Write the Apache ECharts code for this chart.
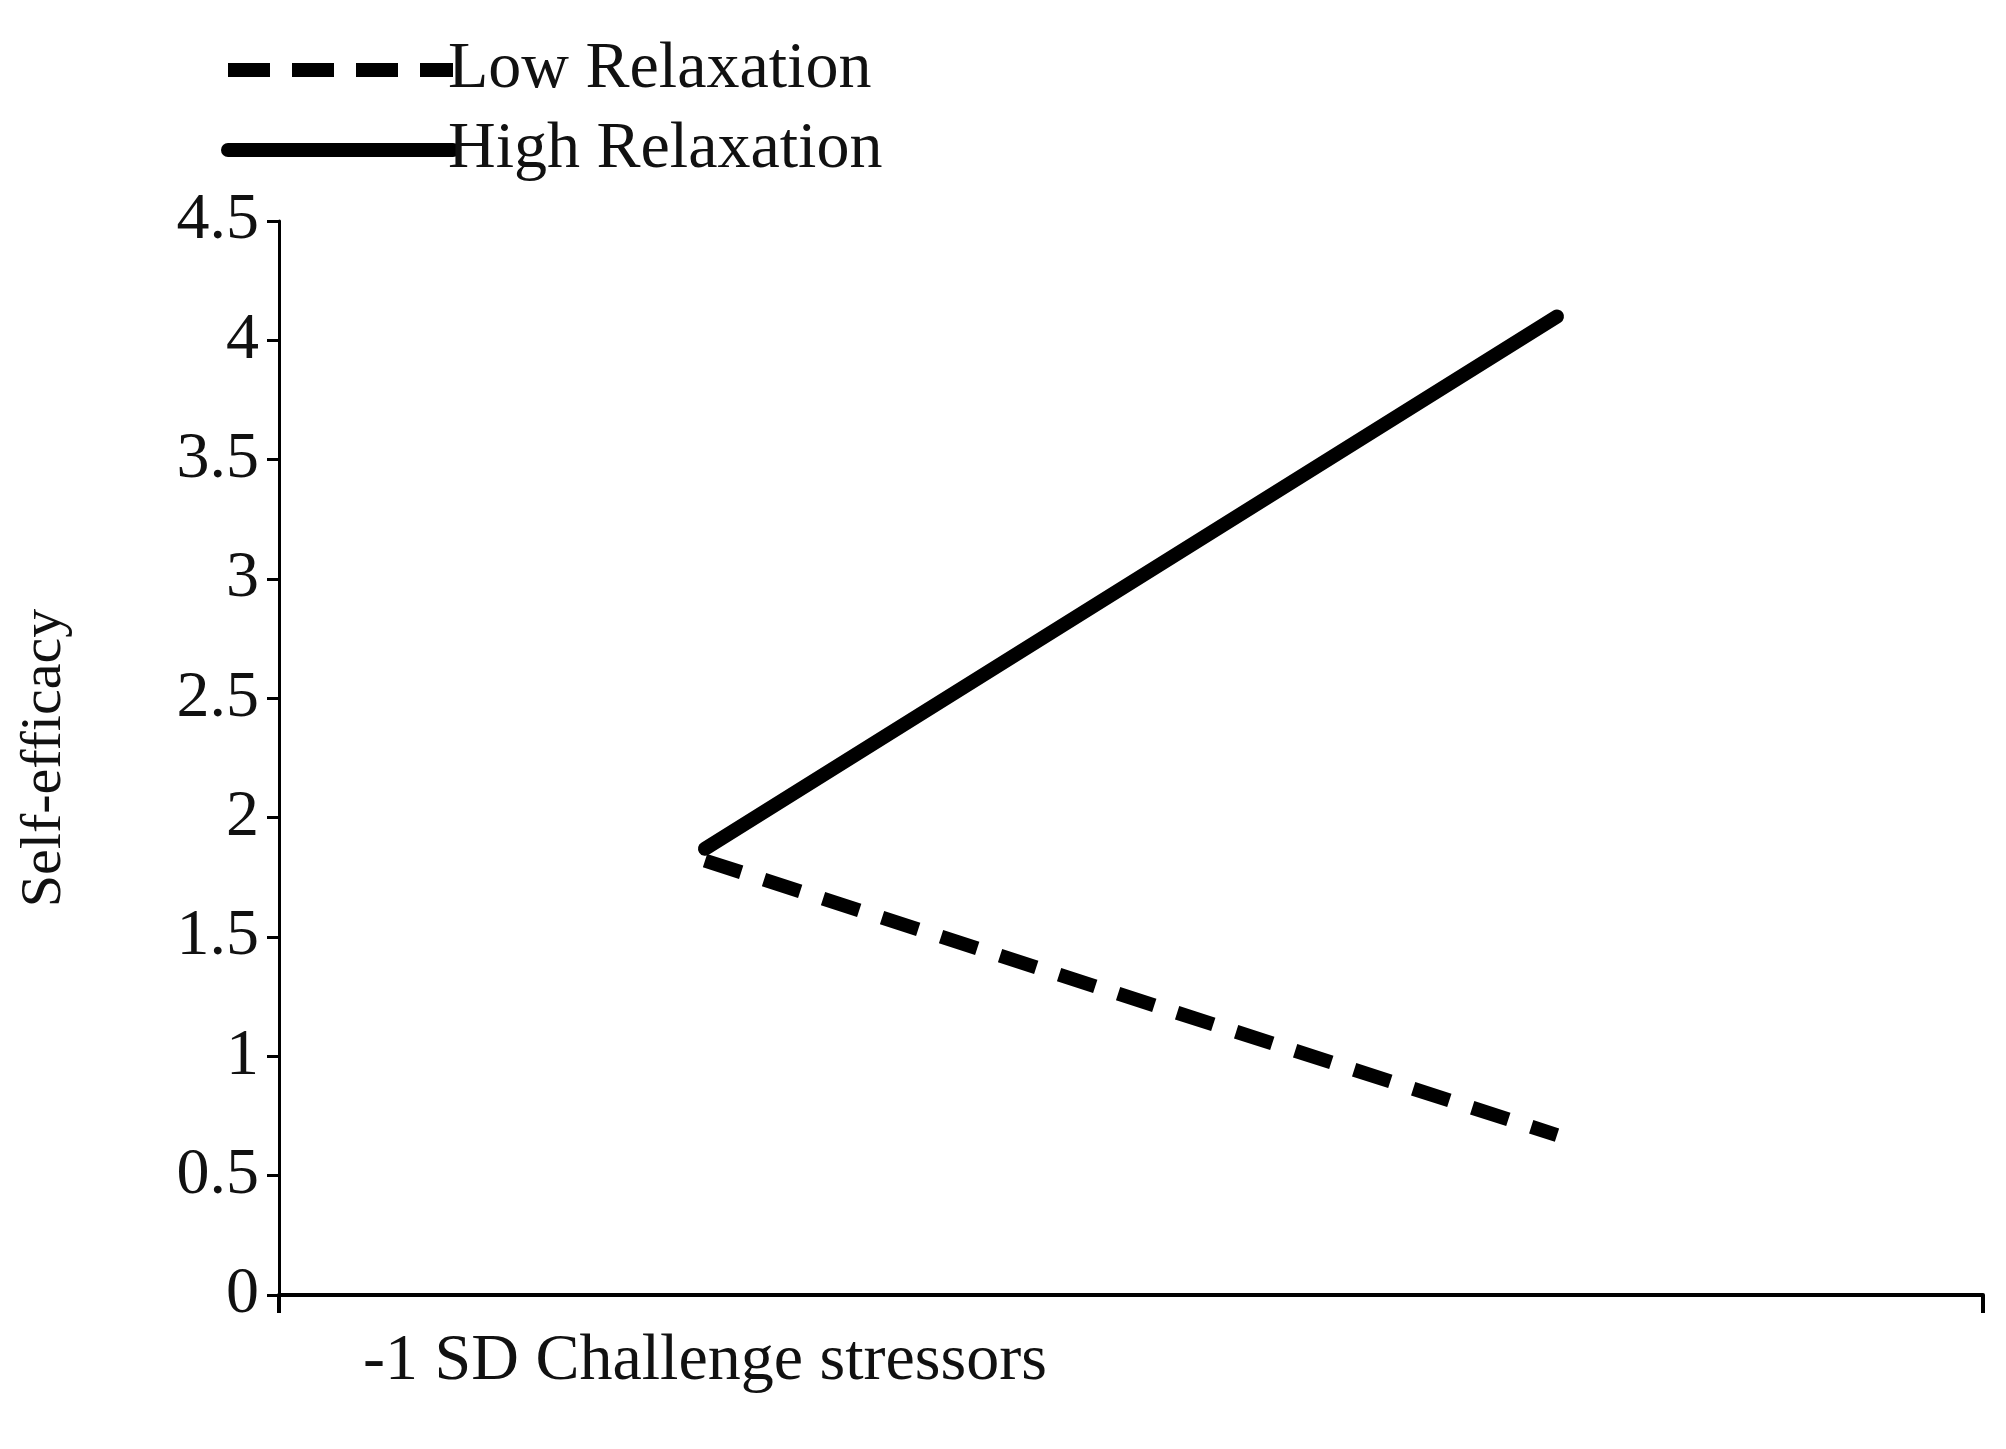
<!DOCTYPE html>
<html>
<head>
<meta charset="utf-8">
<script src="https://cdn.jsdelivr.net/npm/echarts@6/dist/echarts.min.js"></script>
<style>html,body{margin:0;padding:0;background:#fff}#c{width:2006px;height:1449px}</style>
</head>
<body>
<div id="c"></div>
<script>
// data
var categories = ['-1 SD Challenge stressors', '+1 SD Challenge stressors'];
var lowRelax = [1.82, 0.67];
var highRelax = [1.87, 4.1];
var yTicks = [0, 0.5, 1, 1.5, 2, 2.5, 3, 3.5, 4, 4.5];

var font = 'Liberation Serif';
var chart = echarts.init(document.getElementById('c'));
chart.setOption({
	animation: false,
	backgroundColor: '#fff',
	textStyle: {fontFamily: font, color: '#111'},
	grid: {left: 279, right: 23, top: 221, bottom: 154},
	legend: {
		orient: 'vertical', left: 216, top: 32, itemGap: 14,
		itemWidth: 225, itemHeight: 60,
		textStyle: {fontFamily: font, fontSize: 66, color: '#111', padding: [0, 0, 0, -10]},
		itemStyle: {opacity: 0},
		data: [
			{name: 'Low Relaxation', lineStyle: {color: '#000', width: 14, type: [42, 22]}},
			{name: 'High Relaxation', lineStyle: {color: '#000', width: 14, cap: 'round'}}
		]
	},
	xAxis: {
		type: 'category', data: categories, boundaryGap: true,
		axisLine: {lineStyle: {color: '#000', width: 4}},
		axisTick: {show: true, inside: false, length: 18, lineStyle: {color: '#000', width: 4}},
		axisLabel: {fontFamily: font, fontSize: 66, color: '#111', margin: 34}
	},
	yAxis: {
		type: 'value', min: 0, max: 4.5, interval: 0.5,
		name: 'Self-efficacy', nameLocation: 'middle', nameGap: 205, nameRotate: 90,
		nameTextStyle: {fontFamily: font, fontSize: 58, color: '#111'},
		splitLine: {show: false},
		axisLine: {show: true, lineStyle: {color: '#000', width: 3}},
		axisTick: {show: true, length: 12, lineStyle: {color: '#000', width: 3}},
		axisLabel: {fontFamily: font, fontSize: 66, color: '#111', margin: 20,
			formatter: function(v) { return yTicks.indexOf(v) >= 0 ? String(v) : ''; }}
	},
	series: [{
		name: 'Low Relaxation', type: 'line', data: lowRelax, symbol: 'none',
		lineStyle: {color: '#000', width: 14, type: [38, 24]}
	}, {
		name: 'High Relaxation', type: 'line', data: highRelax, symbol: 'none',
		lineStyle: {color: '#000', width: 14, cap: 'round'}
	}]
});
</script>
</body>
</html>
